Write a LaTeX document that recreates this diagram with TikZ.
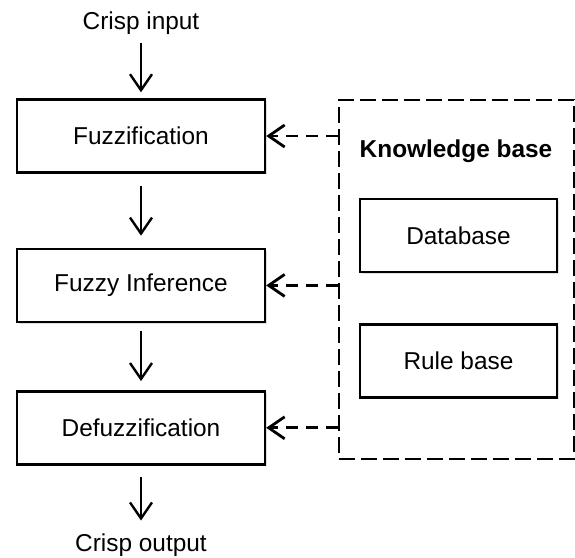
\documentclass[tikz,border=0pt]{standalone}
\usepackage{fontspec}
\setmainfont{Liberation Sans}
\usetikzlibrary{positioning,arrows.meta,shadows}
\tikzset{
    stage/.style = {
        draw,
        line width=1.2pt,
        fill=white,
        minimum width=124pt,
        minimum height=36.5pt,
        drop shadow={shadow xshift=0.9pt, shadow yshift=-0.9pt, opacity=0.25},
        },
    part/.style = {
        stage,
        minimum width=98.5pt,
        },
    kb box/.style = {
        draw,
        line width=1.4pt,
        dash pattern=on 8pt off 3pt,
        minimum width=117.5pt,
        minimum height=179.5pt,
        },
    flow/.style = {
        -{Straight Barb[length=8pt,width=11pt]},
        line width=1.2pt,
        },
    feed/.style = {
        flow,
        line width=1.4pt,
        dash pattern=on 6pt off 4pt,
        },
}

\begin{document}
\begin{tikzpicture}[x=0.5pt, y=-0.5pt, font=\fontsize{12.2}{14}\selectfont]
            \useasboundingbox (0,0) rectangle (575,558);

            \node[stage] (fuzz) at (141,136) {Fuzzification};
            \node[stage, below=37pt of fuzz] (infer) {Fuzzy Inference};
            \node[stage, below=33.5pt of infer] (defuzz) {Defuzzification};
            \node (input) at (141,23) {Crisp input};
            \node (output) at (141,545) {Crisp output};

            \node[kb box] (kb) at (456.5,279.5) {};
            \node[font=\fontsize{12.2}{14}\selectfont\bfseries] (kbtitle) at (456,151) {Knowledge base};
            \node[part] (db) at (458.5,235.5) {Database};
            \node[part, below=25pt of db] (rules) {Rule base};

            \draw[flow, shorten <=1pt, shorten >=3pt] (input) -- (fuzz);
            \draw[flow, shorten <=6pt, shorten >=6pt] (fuzz) -- (infer);
            \draw[flow, shorten <=4pt, shorten >=4.5pt] (infer) -- (defuzz);
            \draw[flow, shorten <=5.5pt, shorten >=3pt] (defuzz) -- (output);

            \draw[feed] (kb.west |- fuzz.east) -- (fuzz.east);
            \draw[feed] (kb.west |- infer.east) -- (infer.east);
            \draw[feed] (kb.west |- defuzz.east) -- (defuzz.east);
        \end{tikzpicture}
\end{document}
